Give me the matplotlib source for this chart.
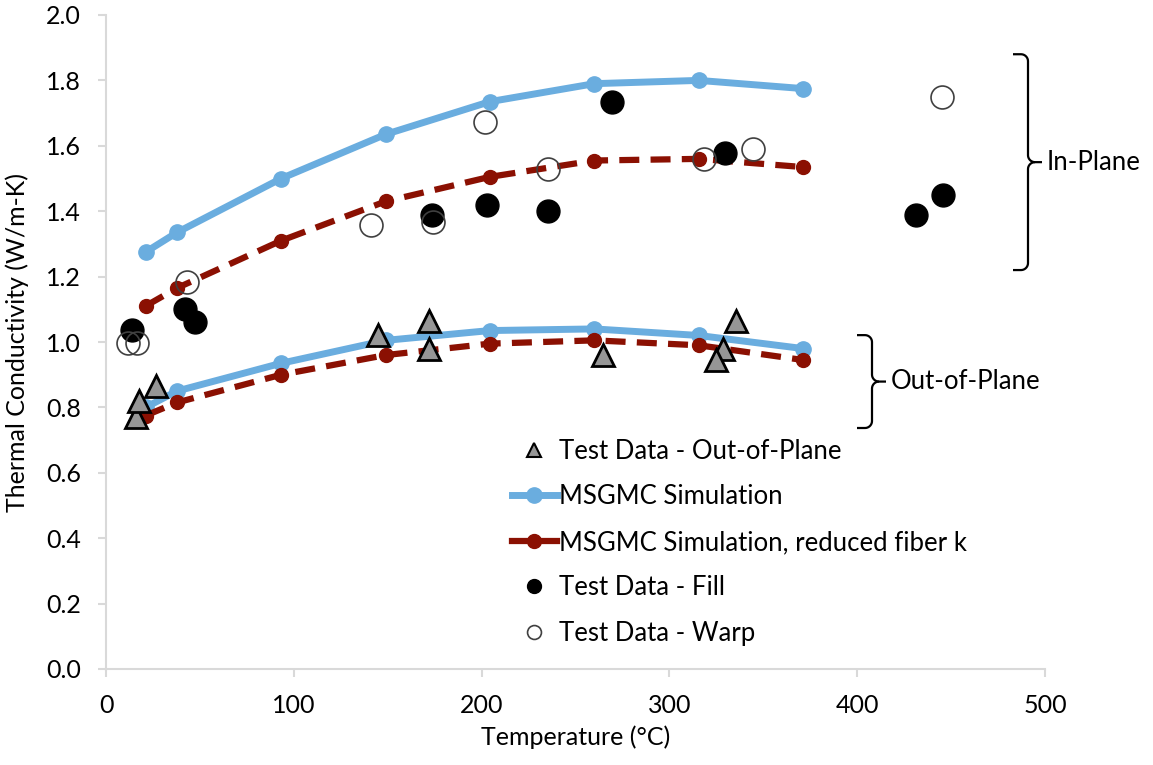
import numpy as np
import matplotlib
matplotlib.use("Agg")
import matplotlib.pyplot as plt
from matplotlib.lines import Line2D

plt.rcParams['font.family'] = ['Lato', 'DejaVu Sans']

# Simulation temperatures (deg C)
sim_T = [21.1, 37.8, 93.3, 148.9, 204.4, 260.0, 315.6, 371.1]
# MSGMC simulation
sim_in = [1.275, 1.335, 1.50, 1.635, 1.735, 1.79, 1.80, 1.775]
sim_out = [0.80, 0.85, 0.935, 1.005, 1.035, 1.04, 1.02, 0.98]
# MSGMC simulation, reduced fiber k
red_in = [1.11, 1.165, 1.31, 1.43, 1.505, 1.555, 1.56, 1.535]
red_out = [0.775, 0.815, 0.90, 0.96, 0.995, 1.005, 0.99, 0.945]

# Test data - out-of-plane
oop_T = [16.0, 17.7, 26.6, 145.0, 172.2, 172.2, 264.5, 335.5, 328.4, 324.8]
oop_k = [0.77, 0.82, 0.865, 1.02, 1.065, 0.98, 0.96, 1.065, 0.98, 0.945]
# Test data - fill
fill_T = [13.8, 42.0, 47.4, 173.4, 203.0, 235.5, 269.6, 329.8, 431.3, 445.7]
fill_k = [1.037, 1.10, 1.062, 1.388, 1.418, 1.40, 1.733, 1.579, 1.388, 1.45]
# Test data - warp
warp_T = [11.9, 16.3, 43.3, 141.0, 174.3, 201.8, 235.5, 318.4, 344.7, 445.0]
warp_k = [0.996, 0.996, 1.183, 1.358, 1.368, 1.674, 1.529, 1.559, 1.59, 1.75]

blue = '#6aaddf'
red = '#8b1002'

fig = plt.figure(figsize=(11.53, 7.65), dpi=100)
ax = fig.add_axes([106 / 1153, 96 / 765, 939 / 1153, 654 / 765])

# simulation curves
for ys in (sim_in, sim_out):
    ax.plot(sim_T, ys, color=blue, lw=5, marker='o', ms=11, zorder=2)
for ys in (red_in, red_out):
    ax.plot(sim_T, ys, color=red, lw=4.5, ls=(0, (3.2, 1.8)), marker='o', ms=10,
            zorder=3, dash_capstyle='butt')

# test data
ax.plot(oop_T, oop_k, ls='none', marker='^', ms=16, mfc='#969696', mec='black',
        mew=2, zorder=5)
ax.plot(fill_T, fill_k, ls='none', marker='o', ms=16.5, mfc='black', mec='black',
        zorder=5)
ax.plot(warp_T, warp_k, ls='none', marker='o', ms=16.5, mfc='none', mec='#404040',
        mew=1.2, zorder=5)

ax.set_xlim(0, 500)
ax.set_ylim(0, 2.0)
ax.set_xticks(np.arange(0, 501, 100))
ax.set_yticks(np.arange(0, 2.01, 0.2))
ax.set_yticklabels([f'{v:.1f}' for v in np.arange(0, 2.01, 0.2)])
for s in ('top', 'right'):
    ax.spines[s].set_visible(False)
for s in ('left', 'bottom'):
    ax.spines[s].set_color('#d9d9d9')
    ax.spines[s].set_linewidth(1.5)
ax.tick_params(axis='both', direction='out', length=6, width=1.5, color='#d9d9d9',
               labelsize=18, pad=12)
ax.set_xlabel('Temperature (°C)', fontsize=18, labelpad=6)
ax.set_ylabel('Thermal Conductivity (W/m-K)', fontsize=18, labelpad=12)


# curly brace, sizes in pixels
def brace(ax, x, top, bot, label):
    sx = 939 / 500.0
    sy = 654 / 2.0
    top, bot = top * sy, bot * sy
    mid = (top + bot) / 2
    w, r, n = 15, 7, 14
    a = np.linspace(0, np.pi / 2, 12)
    # upper half
    xs = np.concatenate([[x - w], x - r + r * np.cos(np.pi / 2 - a),
                         x + r + r * np.cos(np.pi + a), [x + n]])
    ys = np.concatenate([[top], top - r + r * np.sin(np.pi / 2 - a),
                         mid + r + r * np.sin(np.pi + a), [mid]])
    # lower half
    xs2 = np.concatenate([x + r + r * np.cos(np.pi / 2 + a),
                          x - r + r * np.cos(-a), [x - w]])
    ys2 = np.concatenate([mid - r + r * np.sin(np.pi / 2 + a),
                          bot + r + r * np.sin(-a), [bot]])
    for px, py in ((xs, ys), (xs2, ys2)):
        ax.plot((px - 106) / sx, py / sy, color='black', lw=1.6,
                clip_on=False, solid_capstyle='butt')
    ax.text((x + n + 5 - 106) / sx, mid / sy, label, fontsize=18.5, va='center',
            ha='left', clip_on=False)


brace(ax, 1028, 1.88, 1.22, 'In-Plane')
brace(ax, 872, 1.021, 0.737, 'Out-of-Plane')

handles = [
    Line2D([], [], ls='none', marker='^', ms=10, mfc='#969696', mec='black', mew=1.5),
    Line2D([], [], color=blue, lw=5, marker='o', ms=11),
    Line2D([], [], color=red, lw=4.5, marker='o', ms=10),
    Line2D([], [], ls='none', marker='o', ms=10, mfc='black', mec='black'),
    Line2D([], [], ls='none', marker='o', ms=10, mfc='none', mec='#404040', mew=1.2),
]
labels = ['Test Data - Out-of-Plane', 'MSGMC Simulation',
          'MSGMC Simulation, reduced fiber k', 'Test Data - Fill', 'Test Data - Warp']
ax.legend(handles, labels, loc='upper left', bbox_to_anchor=(0.432, 0.352),
          frameon=False, fontsize=18.5, handlelength=1.75, handletextpad=0.1,
          labelspacing=0.8, borderpad=0, borderaxespad=0)

fig.savefig('out.png', dpi=100)
